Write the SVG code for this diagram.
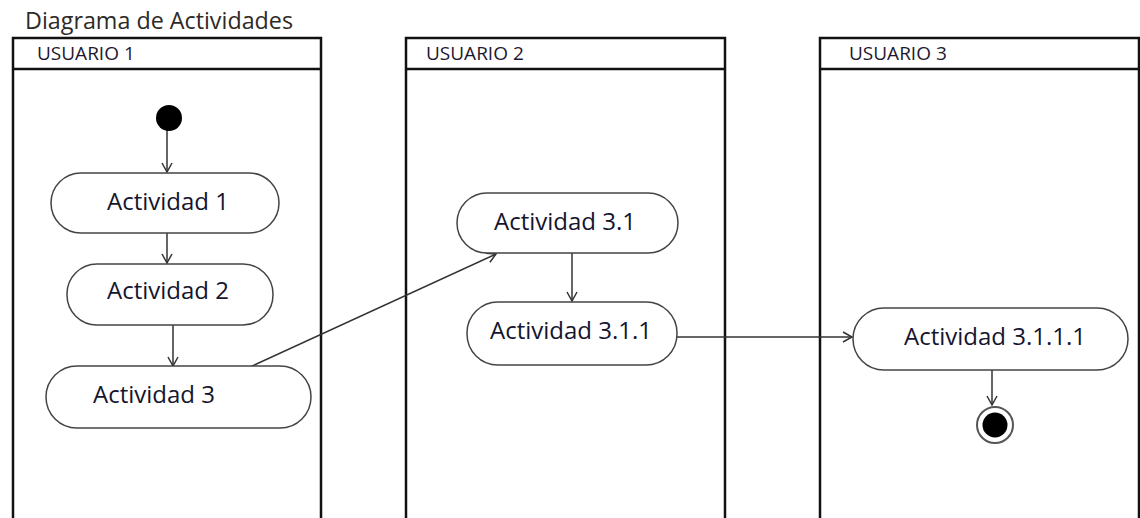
<svg xmlns="http://www.w3.org/2000/svg" width="1140" height="518" viewBox="0 0 1140 518">
<style>
.lane{fill:none;stroke:#111;stroke-width:2.5}
.act{fill:#fff;stroke:#444;stroke-width:1.5}
.t{font-family:"Open Sans","Noto Sans",sans-serif;font-size:24px;fill:#15152e}
.h{font-family:"Open Sans","Noto Sans",sans-serif;font-size:19px;fill:#1e1830}
.title{font-family:"Open Sans","Noto Sans",sans-serif;font-size:23.3px;fill:#2e2a26}
.c{fill:none;stroke:#333;stroke-width:1.5}
</style>
<defs>
<marker id="arr" markerUnits="userSpaceOnUse" markerWidth="12" markerHeight="14" refX="10" refY="6" orient="auto" viewBox="0 0 12 12">
<path d="M1,1 L10,6 L1,11" fill="none" stroke="#333" stroke-width="1.5"/>
</marker>
</defs>
<rect width="1140" height="518" fill="#fff"/>
<text class="title" x="25" y="29">Diagrama de Actividades</text>
<g id="lane1">
<path class="lane" d="M13,520 V38 H321 V520 M13,69 H321"/>
<text class="h" x="37" y="60">USUARIO 1</text>
</g>
<g id="lane2">
<path class="lane" d="M406,520 V38 H725 V520 M406,69 H725"/>
<text class="h" x="426" y="60">USUARIO 2</text>
</g>
<g id="lane3">
<path class="lane" d="M820,520 V38 H1139 V520 M820,69 H1139"/>
<text class="h" x="849" y="60">USUARIO 3</text>
</g>
<g id="connectors">
<line class="c" x1="167" y1="128" x2="167" y2="172" marker-end="url(#arr)"/>
<line class="c" x1="167" y1="233" x2="167" y2="263" marker-end="url(#arr)"/>
<line class="c" x1="173" y1="325" x2="173" y2="366" marker-end="url(#arr)"/>
<line class="c" x1="250" y1="367" x2="496" y2="254" marker-end="url(#arr)"/>
<line class="c" x1="572" y1="253" x2="572" y2="301" marker-end="url(#arr)"/>
<line class="c" x1="677" y1="337" x2="852" y2="337" marker-end="url(#arr)"/>
<line class="c" x1="992" y1="370" x2="992" y2="405" marker-end="url(#arr)"/>
</g>
<g id="start"><circle cx="169" cy="118" r="13" fill="#000"/></g>
<g id="act1"><rect class="act" x="51" y="173" width="228" height="60" rx="30"/><text class="t" x="107" y="210">Actividad 1</text></g>
<g id="act2"><rect class="act" x="67" y="264" width="206" height="61" rx="30"/><text class="t" x="107" y="299">Actividad 2</text></g>
<g id="act3"><rect class="act" x="46" y="366" width="265" height="62" rx="31"/><text class="t" x="93" y="403">Actividad 3</text></g>
<g id="act31"><rect class="act" x="457" y="193" width="221" height="60" rx="30"/><text class="t" x="494" y="230">Actividad 3.1</text></g>
<g id="act311"><rect class="act" x="467" y="302" width="210" height="63" rx="31"/><text class="t" x="490" y="339">Actividad 3.1.1</text></g>
<g id="act3111"><rect class="act" x="853" y="308" width="275" height="62" rx="31"/><text class="t" x="904" y="345">Actividad 3.1.1.1</text></g>
<g id="end"><circle cx="995" cy="425" r="18" fill="#fff" stroke="#555" stroke-width="2"/><circle cx="995" cy="425" r="12.5" fill="#000"/></g>
</svg>
